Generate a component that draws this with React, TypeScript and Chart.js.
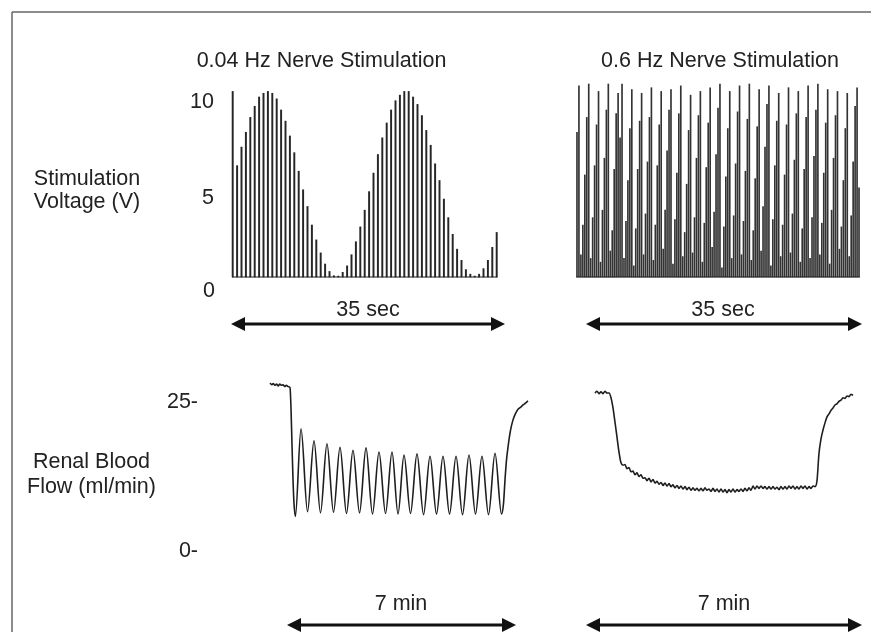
import React, { useEffect, useRef } from "react";
import { Chart, registerables } from "chart.js";

Chart.register(...registerables);

const W = 871;
const H = 632;

// ---------- DATA ----------
// 0.04 Hz stimulation: voltage of each pulse (V)
const lowFreqVoltage = [
  10.0, 6.0, 7.0, 7.8, 8.6, 9.2, 9.7, 9.9, 10.0, 9.9, 9.6, 9.0, 8.4, 7.6, 6.7, 5.7,
  4.7, 3.8, 2.8, 2.0, 1.3, 0.7, 0.3, 0.07, 0.05, 0.25, 0.6, 1.2, 1.9, 2.7, 3.6, 4.6,
  5.6, 6.6, 7.5, 8.3, 9.0, 9.5, 9.8, 10.0, 10.0, 9.7, 9.3, 8.7, 7.9, 7.1, 6.1, 5.2,
  4.2, 3.2, 2.3, 1.5, 0.9, 0.4, 0.15, 0.05, 0.15, 0.45, 0.9, 1.6, 2.4,
];

// 0.6 Hz stimulation: voltage of each pulse (V)
const highFreqVoltage = [
  7.8, 10.3, 1.2, 2.8, 5.5,
  8.6, 10.4, 1.0, 3.2, 6.0,
  8.2, 10.0, 0.8, 3.6, 6.4,
  9.0, 10.4, 1.4, 2.5, 5.8,
  8.8, 9.9, 7.5, 10.4, 1.0,
  3.0, 5.2, 8.0, 10.1, 0.6,
  2.6, 5.8, 8.4, 9.9, 1.2,
  3.4, 6.2, 8.6, 10.2, 0.9,
  2.8, 6.0, 8.2, 10.0, 1.5,
  3.6, 6.8, 9.0, 10.1, 0.7,
  3.1, 5.6, 8.8, 10.3, 1.1,
  2.4, 5.0, 7.9, 9.8, 1.3,
  3.2, 6.4, 8.7, 10.0, 0.8,
  2.9, 5.9, 8.3, 10.2, 1.6,
  3.5, 6.6, 9.1, 10.4, 0.5,
  2.7, 5.4, 8.0, 10.0, 1.0,
  3.3, 6.1, 8.9, 10.3, 1.2,
  3.0, 5.7, 8.5, 10.4, 0.9,
  2.5, 5.3, 8.1, 10.1, 1.4,
  3.8, 7.0, 9.3, 10.3, 0.6,
  3.1, 6.0, 8.4, 9.9, 1.1,
  2.8, 5.5, 8.2, 10.2, 1.3,
  3.4, 6.3, 8.8, 10.0, 0.8,
  2.6, 5.8, 8.6, 10.3, 1.0,
  3.2, 6.5, 9.0, 10.4, 1.2,
  2.9, 5.6, 8.3, 10.1, 0.7,
  3.6, 6.4, 8.7, 10.0, 1.5,
  2.7, 5.2, 8.0, 9.9, 1.1,
  3.3, 6.2, 9.2, 10.2, 4.8,
];

// Renal blood flow during 0.04 Hz stimulation: time (s) and flow (ml/min)
const flowLowTime = [
  0, 3, 6, 9, 12, 15, 18, 21, 24, 27, 30, 33, 36.7, 38.5, 40.3, 42.2, 44, 46.5,
  56.9, 68.8, 80.7, 92.6, 104.5, 116.5, 128.4, 140.3, 152.2, 164.2, 176.1, 188,
  199.9, 211.9, 223.8, 234.8, 245.8, 257.7, 269.6, 281.6, 293.5, 305.4, 317.3,
  329.3, 341.2, 353.1, 365.0, 376.9, 388.8, 400.8, 412.7, 424.6,
  428.3, 431, 433.5, 436.5, 441, 445.7, 450, 454.9, 459.5, 464, 468.5, 473.2,
];
const flowLowValue = [
  28.2, 27.9, 28.1, 27.8, 28.0, 27.7, 28.0, 27.8, 27.9, 27.6, 27.8, 27.6, 27.4, 24.0, 18.0, 12.0, 8.0, 5.8,
  20.5, 6.6, 18.5, 6.4, 18.0, 6.5, 17.4, 6.3,
  16.9, 6.4, 17.3, 6.2, 16.6, 6.3, 16.6, 6.2, 16.1, 6.3, 16.3, 6.1, 15.9, 6.2, 15.9,
  6.2, 15.9, 6.1, 16.1, 6.2, 15.9, 6.1, 16.4, 6.2,
  8.0, 11.9, 15.0, 17.4, 20.2, 22.0, 23.0, 23.8, 24.1, 24.5, 24.8, 25.2,
];

// Renal blood flow during 0.6 Hz stimulation: flow (ml/min), one sample per step
const flowHighValue = [
  26.5, 26.8, 26.4, 26.7, 26.4, 26.8, 26.5, 26.5, 25.7, 24.0, 21.6, 19.1, 16.6, 14.8, 14.4, 14.5,
  13.8, 14.0, 13.3, 13.4, 12.8, 13.1, 12.5, 12.8, 12.2, 12.3, 11.8, 12.2, 11.6, 12.0, 11.4, 11.7,
  11.2, 11.5, 11.0, 11.4, 10.9, 11.3, 10.8, 11.1, 10.6, 11.0, 10.5, 10.9, 10.4, 10.8, 10.3, 10.7,
  10.2, 10.6, 10.2, 10.5, 10.1, 10.5, 10.1, 10.6, 10.2, 10.4, 10.0, 10.5, 10.0, 10.4, 9.9, 10.4,
  9.9, 10.3, 9.8, 10.3, 9.9, 10.4, 9.9, 10.3, 10.0, 10.4, 10.0, 10.5, 10.1, 10.6, 10.2, 10.9,
  10.4, 10.9, 10.5, 10.9, 10.5, 10.8, 10.4, 10.8, 10.4, 10.8, 10.4, 10.7, 10.3, 10.8, 10.4, 10.8,
  10.4, 10.9, 10.5, 10.9, 10.4, 10.8, 10.4, 10.9, 10.5, 10.9, 10.4, 10.8, 10.5, 10.9, 10.8, 11.8,
  16.4, 18.8, 20.3, 21.5, 22.5, 23.0, 23.6, 24.0, 24.5, 24.7, 25.1, 25.3, 25.7, 25.6, 26.0, 25.9,
  26.3, 26.1,
];

const voltageTicks = ["10", "5", "0"];
const flowTicks = ["25-", "0-"];
const panelTitles = ["0.04 Hz Nerve Stimulation", "0.6 Hz Nerve Stimulation"];
const voltageLabel = ["Stimulation", "Voltage (V)"];
const flowLabel = ["Renal Blood", "Flow (ml/min)"];
const durationTop = "35 sec";
const durationBottom = "7 min";

// ---------- CHART HELPERS ----------
const INK = "#1e1e1e";

const baselinePlugin = {
  id: "baseline",
  afterDatasetsDraw(chart: any) {
    const { ctx, scales } = chart;
    const n = chart.data.labels.length;
    const y = scales.y.getPixelForValue(0);
    ctx.save();
    ctx.strokeStyle = INK;
    ctx.lineWidth = 1.2;
    ctx.beginPath();
    ctx.moveTo(scales.x.getPixelForValue(0) - 0.7, y);
    ctx.lineTo(scales.x.getPixelForValue(n - 1) + 0.7, y);
    ctx.stroke();
    ctx.restore();
  },
};

type Area = { l: number; r: number; t: number; b: number };

function baseOptions(area: Area) {
  return {
    responsive: false,
    animation: false,
    events: [],
    layout: { padding: { left: area.l, right: W - area.r, top: area.t, bottom: H - area.b } },
    plugins: { legend: { display: false }, tooltip: { enabled: false }, title: { display: false } },
  };
}

function barConfig(values: number[], area: Area, thickness: number, color: string) {
  return {
    type: "bar",
    data: {
      labels: values.map((_, i) => String(i)),
      datasets: [
        {
          data: values,
          backgroundColor: color,
          borderWidth: 0,
          barThickness: thickness,
          clip: false,
        },
      ],
    },
    options: {
      ...baseOptions(area),
      scales: {
        x: { display: false, offset: true },
        y: { display: false, min: 0, max: 10.4 },
      },
    },
    plugins: [baselinePlugin],
  };
}

function lineConfig(xs: number[], ys: number[], xMax: number, area: Area) {
  return {
    type: "line",
    data: {
      datasets: [
        {
          data: xs.map((x, i) => ({ x, y: ys[i] })),
          borderColor: INK,
          borderWidth: 1.6,
          pointRadius: 0,
          fill: false,
          cubicInterpolationMode: "monotone",
          clip: false,
        },
      ],
    },
    options: {
      ...baseOptions(area),
      scales: {
        x: { type: "linear", display: false, min: 0, max: xMax },
        y: { display: false, min: 0, max: 30 },
      },
    },
  };
}

function ChartLayer({ make }: { make: () => any }) {
  const ref = useRef<HTMLCanvasElement | null>(null);
  useEffect(() => {
    if (!ref.current) return;
    const chart = new Chart(ref.current, make());
    return () => chart.destroy();
  }, []);
  return (
    <canvas
      ref={ref}
      width={W}
      height={H}
      style={{ position: "absolute", left: 0, top: 0, width: W, height: H }}
    />
  );
}

const FONT = '"Liberation Sans", Arial, Helvetica, sans-serif';
const FS = 21.5;

function Label({ x, y, align, text }: { x: number; y: number; align: "left" | "center" | "right"; text: string }) {
  const style: any = {
    position: "absolute",
    top: y - 10.5,
    fontFamily: FONT,
    fontSize: FS,
    lineHeight: `${FS}px`,
    color: "#222",
    whiteSpace: "nowrap",
  };
  if (align === "left") style.left = x;
  if (align === "right") style.right = W - x;
  if (align === "center") {
    style.left = x;
    style.transform = "translateX(-50%)";
  }
  return <div style={style}>{text}</div>;
}

function Arrow({ x1, x2, y }: { x1: number; x2: number; y: number }) {
  const hl = 14;
  const hh = 7;
  return (
    <g fill="#111">
      <rect x={x1 + hl - 1} y={y - 1.5} width={x2 - x1 - 2 * hl + 2} height={3} />
      <polygon points={`${x1},${y} ${x1 + hl},${y - hh} ${x1 + hl},${y + hh}`} />
      <polygon points={`${x2},${y} ${x2 - hl},${y - hh} ${x2 - hl},${y + hh}`} />
    </g>
  );
}

export default function App() {
  const flowHighIndex = flowHighValue.map((_, i) => i);
  return (
    <div
      style={{
        position: "absolute",
        left: 0,
        top: 0,
        width: W,
        height: H,
        background: "#fff",
        overflow: "hidden",
      }}
    >
      <svg width={W} height={H} style={{ position: "absolute", left: 0, top: 0 }}>
        <line x1={12} y1={12} x2={12} y2={H} stroke="#666" strokeWidth={1.5} />
        <line x1={12} y1={12} x2={W} y2={12} stroke="#666" strokeWidth={1.5} />
        <Arrow x1={231} x2={505} y={324} />
        <Arrow x1={586} x2={862} y={324} />
        <Arrow x1={287} x2={516} y={625} />
        <Arrow x1={586} x2={862} y={625} />
      </svg>

      <ChartLayer make={() => barConfig(lowFreqVoltage, { l: 230.5, r: 498.9, t: 84, b: 277 }, 1.3, "#262626")} />
      <ChartLayer make={() => barConfig(highFreqVoltage, { l: 576, r: 860, t: 84, b: 277 }, 1.0, "#333333")} />
      <ChartLayer
        make={() => lineConfig(flowLowTime, flowLowValue, 473.2, { l: 270, r: 528, t: 372.2, b: 551 })}
      />
      <ChartLayer
        make={() =>
          lineConfig(flowHighIndex, flowHighValue, flowHighValue.length - 1, { l: 595, r: 853, t: 372.2, b: 551 })
        }
      />

      <Label x={321.5} y={60} align="center" text={panelTitles[0]} />
      <Label x={720} y={60} align="center" text={panelTitles[1]} />

      <Label x={214} y={101} align="right" text={voltageTicks[0]} />
      <Label x={214} y={197} align="right" text={voltageTicks[1]} />
      <Label x={215} y={290} align="right" text={voltageTicks[2]} />

      <Label x={87} y={178} align="center" text={voltageLabel[0]} />
      <Label x={87} y={201} align="center" text={voltageLabel[1]} />

      <Label x={368} y={309} align="center" text={durationTop} />
      <Label x={723} y={309} align="center" text={durationTop} />

      <Label x={198} y={401} align="right" text={flowTicks[0]} />
      <Label x={198} y={550.5} align="right" text={flowTicks[1]} />

      <Label x={91.5} y={461} align="center" text={flowLabel[0]} />
      <Label x={91.5} y={486} align="center" text={flowLabel[1]} />

      <Label x={401} y={603} align="center" text={durationBottom} />
      <Label x={724} y={603} align="center" text={durationBottom} />
    </div>
  );
}
